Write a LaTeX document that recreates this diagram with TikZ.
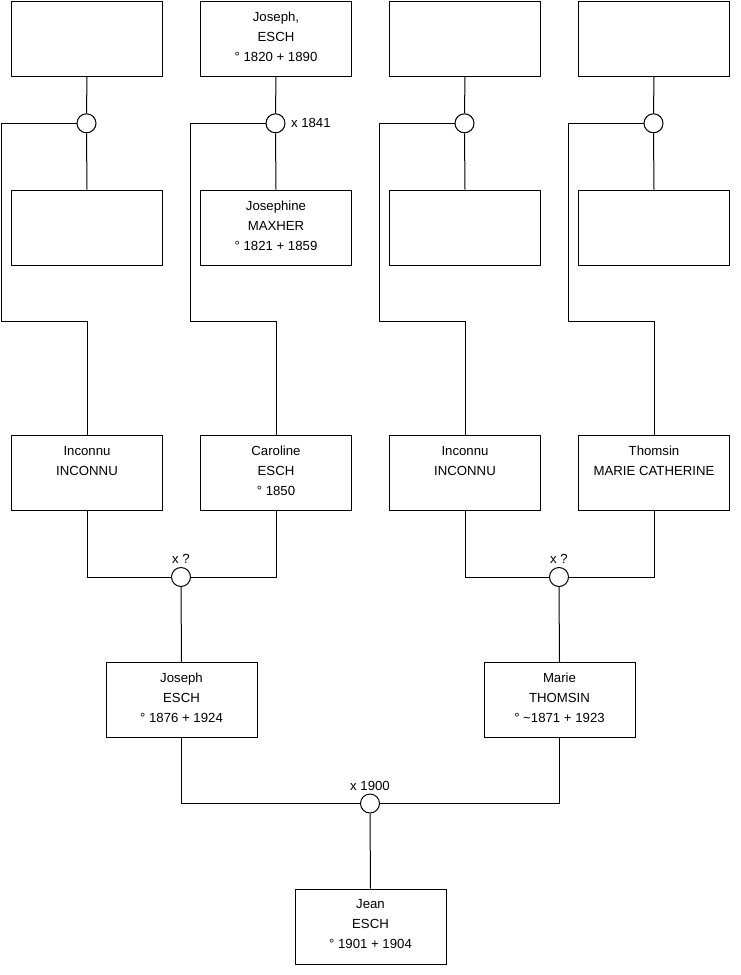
\documentclass[tikz,border=0pt]{standalone}
\usepackage{fontspec}
\setmainfont{Liberation Sans}
\begin{document}
\begin{tikzpicture}[x=1pt,y=-1pt,line width=1pt,
  pbox/.style={draw=black,rectangle,minimum width=151pt,minimum height=75pt,inner sep=0pt,anchor=north west,fill=white},
  txt/.style={anchor=north,align=center,inner sep=0pt,font=\fontsize{13.2}{20}\selectfont,execute at begin node=\strut},
  ring/.style={draw=black,circle,minimum size=19pt,inner sep=0pt,fill=white},
  lbl/.style={inner sep=0pt,font=\fontsize{13.2}{16}\selectfont}]
\useasboundingbox (0,0) rectangle (740,975);
% row 1
\node[pbox] (p1) at (11,1) {};
\node[pbox] (p2) at (200,1) {};
\node[pbox] (p3) at (389,1) {};
\node[pbox] (p4) at (578,1) {};
% row 2
\node[pbox] (p5) at (11,189.5) {};
\node[pbox] (p6) at (200,189.5) {};
\node[pbox] (p7) at (389,189.5) {};
\node[pbox] (p8) at (578,189.5) {};
% row 3
\node[pbox] (p9) at (11,435) {};
\node[pbox] (p10) at (200,435) {};
\node[pbox] (p11) at (389,435) {};
\node[pbox] (p12) at (578,435) {};
% row 4
\node[pbox] (p13) at (105.5,662) {};
\node[pbox] (p14) at (483.5,662) {};
% row 5
\node[pbox] (p15) at (294.5,888.5) {};
% texts
\node[txt] (t2) at ([yshift=-10.5pt]p2.north) {Joseph,\\ESCH\\° 1820 + 1890};
\node[txt] (t6) at ([yshift=-10.5pt]p6.north) {Josephine\\MAXHER\\° 1821 + 1859};
\node[txt] (t9) at ([yshift=-10.5pt]p9.north) {Inconnu\\INCONNU};
\node[txt] (t10) at ([yshift=-10.5pt]p10.north) {Caroline\\ESCH\\° 1850};
\node[txt] (t11) at ([yshift=-10.5pt]p11.north) {Inconnu\\INCONNU};
\node[txt] (t12) at ([yshift=-10.5pt]p12.north) {Thomsin\\MARIE CATHERINE};
\node[txt] (t13) at ([yshift=-10.5pt]p13.north) {Joseph\\ESCH\\° 1876 + 1924};
\node[txt] (t14) at ([yshift=-10.5pt]p14.north) {Marie\\THOMSIN\\° \textasciitilde 1871 + 1923};
\node[txt] (t15) at ([yshift=-10.5pt]p15.north) {Jean\\ESCH\\° 1901 + 1904};
% marriage circles
\node[ring] (c1) at (86.5,123.3) {};
\node[ring] (c2) at (275.5,123.3) {};
\node[ring] (c3) at (464.5,123.3) {};
\node[ring] (c4) at (653.5,123.3) {};
\node[ring] (m1) at (181,577) {};
\node[ring] (m2) at (559,577) {};
\node[ring] (m3) at (370,803.5) {};
% corner coordinates
\coordinate (k1) at (1.5,321.5);
\coordinate (k2) at (190.5,321.5);
\coordinate (k3) at (379.5,321.5);
\coordinate (k4) at (568.5,321.5);
% connectors
\draw (p1.south) -- (c1.north);
\draw (c1.south) -- (p5.north);
\draw (c1.west) -| (k1) -| (p9.north);
\draw (p2.south) -- (c2.north);
\draw (c2.south) -- (p6.north);
\draw (c2.west) -| (k2) -| (p10.north);
\draw (p3.south) -- (c3.north);
\draw (c3.south) -- (p7.north);
\draw (c3.west) -| (k3) -| (p11.north);
\draw (p4.south) -- (c4.north);
\draw (c4.south) -- (p8.north);
\draw (c4.west) -| (k4) -| (p12.north);
\draw (p9.south) |- (m1.west);
\draw (p10.south) |- (m1.east);
\draw (m1.south) -- (p13.north);
\draw (p11.south) |- (m2.west);
\draw (p12.south) |- (m2.east);
\draw (m2.south) -- (p14.north);
\draw (p13.south) |- (m3.west);
\draw (p14.south) |- (m3.east);
\draw (m3.south) -- (p15.north);
% labels
\node[lbl,anchor=west] (l1) at ([xshift=5pt]c2.east) {x 1841};
\node[lbl] (l2) at (181,559) {x ?};
\node[lbl] (l3) at (559,559) {x ?};
\node[lbl] (l4) at (370,785.5) {x 1900};
\end{tikzpicture}
\end{document}
